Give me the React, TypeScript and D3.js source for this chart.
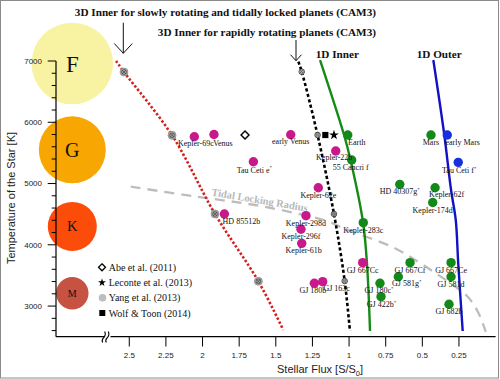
import React from 'react';
import * as d3 from 'd3';

const W = 500;
const H = 379;

// ---------- data ----------
const xTickValues = [2.5, 2.25, 2, 1.75, 1.5, 1.25, 1, 0.75, 0.5, 0.25];
const xTickLabels = ['2.5', '2.25', '2', '1.75', '1.5', '1.25', '1', '0.75', '0.5', '0.25'];
const yMajorTicks = [3000, 4000, 5000, 6000, 7000];
const yMinorTicks = [2600, 2800, 3200, 3400, 3600, 3800, 4200, 4400, 4600, 4800, 5200, 5400, 5600, 5800, 6200, 6400, 6600, 6800];

const spectralClasses = ['F', 'G', 'K', 'M'];
const spectralTemps = [6960, 5550, 4300, 3210];

const magentaPlanets: [string, number, number][] = [
  ['Kepler-69c', 2.056, 5764],
  ['Venus', 1.922, 5800],
  ['Tau Ceti e*', 1.653, 5356],
  ['early Venus', 1.398, 5797],
  ['Kepler-22b', 1.091, 5531],
  ['Kepler-62e', 1.21, 4932],
  ['Kepler-298d', 1.294, 4475],
  ['Kepler-296f', 1.328, 4253],
  ['Kepler-61b', 1.323, 4024],
  ['HD 85512b', 1.851, 4503],
  ['GJ 667Cc', 0.907, 3708],
  ['GJ 180b', 1.237, 3372],
  ['GJ 163c', 1.18, 3398],
];
const greenPlanets: [string, number, number][] = [
  ['Earth', 1.009, 5792],
  ['55 Cancri f', 0.982, 5384],
  ['Mars', 0.441, 5792],
  ['HD 40307g*', 0.654, 4987],
  ['Kepler-62f', 0.413, 4932],
  ['Kepler-174d', 0.429, 4690],
  ['Kepler-283c', 0.903, 4361],
  ['GJ 667Cf', 0.584, 3708],
  ['GJ 667Ce', 0.304, 3708],
  ['GJ 581d', 0.304, 3479],
  ['GJ 581g*', 0.664, 3479],
  ['GJ 180c*', 0.789, 3372],
  ['GJ 422b*', 0.782, 3153],
  ['GJ 682b', 0.318, 3029],
];
const bluePlanets: [string, number, number][] = [
  ['early Mars', 0.33, 5792],
  ['Tau Ceti f*', 0.255, 5346],
];

const abePoints: [number, number][] = [[1.71, 5792]];
const lecontePoints: [number, number][] = [[1.103, 5792]];
const wolfPoints: [number, number][] = [[1.162, 5792]];
const yangSlowPoints: [number, number][] = [[2.536, 6820], [2.208, 5787], [1.915, 4503], [1.619, 3404]];
const yangRapidPoints: [number, number][] = [[1.323, 6825], [1.215, 5792], [1.103, 4503], [1.03, 3409]];

const slowLine: [number, number][] = [[2.59, 7000], [2.536, 6820], [2.208, 5787], [1.915, 4503], [1.619, 3404], [1.449, 2609]];
const rapidLine: [number, number][] = [[1.346, 6990], [1.323, 6825], [1.215, 5792], [1.103, 4503], [1.03, 3409], [0.994, 2593]];
const inner1DLine: [number, number][] = [[1.198, 7016], [1.034, 5792], [0.99, 5384], [0.905, 4372], [0.878, 3703], [0.857, 2593]];
const outer1DLine: [number, number][] = [[0.425, 7016], [0.35, 5792], [0.304, 4894], [0.272, 4405], [0.255, 3698], [0.2245, 2593]];
const tidalLine: [number, number][] = [[2.49, 4948], [2.038, 4785], [1.608, 4633], [1.151, 4388], [1.028, 4258], [0.7, 3959], [0.495, 3670], [0.311, 3376], [0.195, 3164], [0.12, 2903], [0.067, 2577]];

const legendLabels = ['Abe et al. (2011)', 'Leconte et al. (2013)', 'Yang et al. (2013)', 'Wolf & Toon (2014)'];

// ---------- layout / style ----------
const labelShift: Record<string, [number, number]> = {
  'Kepler-69c': [1.5, 9.5],
  Venus: [9, 11.3],
  'Tau Ceti e*': [1, 11],
  'early Venus': [0, 9.6],
  Earth: [9, 10],
  'Kepler-22b': [-1.5, 8.5],
  '55 Cancri f': [-1, 10],
  'early Mars': [15.5, 10],
  'Tau Ceti f*': [1, 11],
  'Kepler-62f': [11.5, 9.3],
  'HD 85512b': [17, 10],
  'GJ 581g*': [8.5, 9.3],
  'GJ 180c*': [-1, 10],
  'GJ 180b': [-1.5, 9.4],
  'GJ 163c': [14, 9.3],
  'Kepler-61b': [2, 10],
  'GJ 422b*': [0.5, 10.6],
};
const classRadius: Record<string, number> = { F: 40.8, G: 33.5, K: 24.5, M: 16.2 };
const classColor: Record<string, string> = { F: '#f8f3a2', G: '#f8a602', K: '#fc4c0a', M: '#c65241' };
const classFont: Record<string, number> = { F: 23, G: 20, K: 14.5, M: 10 };

const SERIF = '"Liberation Serif", "Times New Roman", serif';
const SANS = '"Liberation Sans", Arial, sans-serif';
const MAGENTA = '#c8198a';
const GREEN = '#13891a';
const BLUE = '#1530dc';

const x = d3.scaleLinear().domain([3, 0]).range([56, 495.6]);
const y = d3.scaleLinear().domain([2500, 7000]).range([336.7, 61]);

const lineGen = d3
  .line<[number, number]>()
  .x((d) => x(d[0]))
  .y((d) => y(d[1]))
  .curve(d3.curveCatmullRom.alpha(0.5));

function Label({ name, px, py }: { name: string; px: number; py: number }) {
  const [dx, dy] = labelShift[name] || [0, 10];
  const star = name.endsWith('*');
  const base = star ? name.slice(0, -1) : name;
  return (
    <text x={px + dx} y={py + dy} textAnchor="middle" fontFamily={SERIF} fontSize={8} fill="#111">
      {base}
      {star && (
        <tspan fontSize={5} dy={-3.5}>
          *
        </tspan>
      )}
    </text>
  );
}

function YangMarker({ cx, cy, r, fill, stroke }: { cx: number; cy: number; r: number; fill: string; stroke: string }) {
  const k = r * 0.45;
  return (
    <g>
      <circle cx={cx} cy={cy} r={r} fill={fill} stroke={stroke} strokeWidth={0.7} />
      <circle cx={cx} cy={cy} r={r * 0.6} fill="none" stroke="#333" strokeWidth={0.6} />
      <path d={`M${cx - k},${cy - k}L${cx + k},${cy + k}M${cx - k},${cy + k}L${cx + k},${cy - k}`} stroke="#333" strokeWidth={0.6} />
    </g>
  );
}

const diamondPath = (cx: number, cy: number, h: number) => `M${cx},${cy - h}L${cx + h},${cy}L${cx},${cy + h}L${cx - h},${cy}Z`;

export default function App() {
  const starBig = d3.symbol(d3.symbolStar, 30)() as string;
  const starSmall = d3.symbol(d3.symbolStar, 20)() as string;
  const sqBig = d3.symbol(d3.symbolSquare, 38)() as string;
  const sqSmall = d3.symbol(d3.symbolSquare, 36)() as string;

  const allPlanets = [
    ...magentaPlanets.map((p) => ({ p, c: MAGENTA })),
    ...greenPlanets.map((p) => ({ p, c: GREEN })),
    ...bluePlanets.map((p) => ({ p, c: BLUE })),
  ];

  const legendY = [267.3, 282.6, 297.8, 313];
  const bx = 107.5;
  const by = 337;

  return (
    <svg width={W} height={H} style={{ position: 'absolute', left: 0, top: 0, background: '#fff' }}>
      <rect x={0.5} y={0.5} width={W - 2} height={H - 1.5} fill="#fff" stroke="#8a8a8a" strokeWidth={1} />

      {/* spectral class circles */}
      {spectralClasses.map((c, i) => (
        <g key={c}>
          <circle cx={72.3} cy={y(spectralTemps[i])} r={classRadius[c]} fill={classColor[c]} />
          <text x={72.3} y={y(spectralTemps[i])} dy="0.35em" textAnchor="middle" fontFamily={SERIF} fontSize={classFont[c]} fill="#111">
            {c}
          </text>
        </g>
      ))}

      {/* axes */}
      <line x1={56} x2={56} y1={y(7000)} y2={336.7} stroke="#000" strokeWidth={1.2} />
      <line x1={56} x2={495.6} y1={336.7} y2={336.7} stroke="#000" strokeWidth={1.2} />
      {yMajorTicks.map((t) => (
        <g key={t}>
          <line x1={47.7} x2={56} y1={y(t)} y2={y(t)} stroke="#000" strokeWidth={1} />
          <text x={42} y={y(t)} dy="0.35em" textAnchor="end" fontFamily={SANS} fontSize={8} fill="#222">
            {t}
          </text>
        </g>
      ))}
      {yMinorTicks.map((t) => (
        <line key={t} x1={51.7} x2={56} y1={y(t)} y2={y(t)} stroke="#000" strokeWidth={1} />
      ))}
      {xTickValues.map((v, i) => (
        <g key={v}>
          <line x1={x(v)} x2={x(v)} y1={336.7} y2={346.5} stroke="#000" strokeWidth={1} />
          <text x={x(v)} y={357.8} textAnchor="middle" fontFamily={SANS} fontSize={8} fill="#222">
            {xTickLabels[i]}
          </text>
        </g>
      ))}
      {/* axis break */}
      <rect x={bx - 3} y={by - 2} width={6} height={4} fill="#fff" />
      {[-1.8, 1.8].map((o) => (
        <path
          key={o}
          d={`M${bx - 3 + o},${by + 5.5} C${bx - 6 + o},${by + 1} ${bx + 2 + o},${by + 1} ${bx - 1 + o},${by - 5.5}`}
          fill="none"
          stroke="#000"
          strokeWidth={1.1}
        />
      ))}

      <text x={277} y={373.3} fontFamily={SANS} fontSize={11} fill="#222">
        Stellar Flux [S/S
        <tspan fontSize={7.5} dy={2.5}>0</tspan>
        <tspan dy={-2.5}>]</tspan>
      </text>
      <text transform="translate(14.5,198) rotate(-90)" textAnchor="middle" fontFamily={SANS} fontSize={11} fill="#222">
        Temperature of the Star [K]
      </text>

      {/* tidal locking */}
      <path d={lineGen(tidalLine) as string} fill="none" stroke="#bdbdbd" strokeWidth={2.3} strokeDasharray="10,7" />
      <text transform="translate(211,195.5) rotate(9.5)" fontFamily={SERIF} fontWeight="bold" fontSize={10.5} fill="#b8b8b8">
        Tidal Locking Radius
      </text>

      {/* limit lines */}
      <path d={lineGen(slowLine) as string} fill="none" stroke="#d41f1f" strokeWidth={2.6} strokeDasharray="2.4,2" />
      <path d={lineGen(rapidLine) as string} fill="none" stroke="#000" strokeWidth={2.6} strokeDasharray="3.2,2.4" />
      <path d={lineGen(inner1DLine) as string} fill="none" stroke="#168a16" strokeWidth={2.4} />
      <path d={lineGen(outer1DLine) as string} fill="none" stroke="#1212c4" strokeWidth={2.4} />

      {/* titles & arrows */}
      <text x={376} y={16} textAnchor="end" fontFamily={SERIF} fontWeight="bold" fontSize={11.2} fill="#111">
        3D Inner for slowly rotating and tidally locked planets (CAM3)
      </text>
      <text x={376} y={36} textAnchor="end" fontFamily={SERIF} fontWeight="bold" fontSize={11.2} fill="#111">
        3D Inner for rapidly rotating planets (CAM3)
      </text>
      <text x={315.7} y={57.5} fontFamily={SERIF} fontWeight="bold" fontSize={11.2} fill="#111">
        1D Inner
      </text>
      <text x={416.7} y={57.5} fontFamily={SERIF} fontWeight="bold" fontSize={11.2} fill="#111">
        1D Outer
      </text>
      <path d="M123.3,22.7L123.3,53.3M114.3,43.5L123.3,53.3L132.3,43.5" fill="none" stroke="#111" strokeWidth={1} />
      <path d="M296,40L296,60.7M290.5,54.7L296,60.7L301.5,54.7" fill="none" stroke="#111" strokeWidth={1} />

      {/* Yang markers */}
      {yangSlowPoints.map((d, i) => (
        <YangMarker key={'ys' + i} cx={x(d[0])} cy={y(d[1])} r={4} fill="#a9a9a9" stroke="#8a8a8a" />
      ))}
      {yangRapidPoints.map((d, i) => (
        <YangMarker key={'yr' + i} cx={x(d[0])} cy={y(d[1])} r={2.8} fill="#e6e6e6" stroke="#111" />
      ))}

      {/* other studies */}
      {abePoints.map((d, i) => (
        <path key={'a' + i} d={diamondPath(x(d[0]), y(d[1]), 4)} fill="#fff" stroke="#000" strokeWidth={1.4} />
      ))}
      {wolfPoints.map((d, i) => (
        <path key={'w' + i} d={sqBig} transform={`translate(${x(d[0])},${y(d[1])})`} fill="#000" />
      ))}
      {lecontePoints.map((d, i) => (
        <path key={'l' + i} d={starBig} transform={`translate(${x(d[0])},${y(d[1])})`} fill="#000" />
      ))}

      {/* planets */}
      {allPlanets.map(({ p, c }) => (
        <circle key={p[0]} cx={x(p[1])} cy={y(p[2])} r={4.7} fill={c} />
      ))}
      {allPlanets.map(({ p }) => (
        <Label key={'lb' + p[0]} name={p[0]} px={x(p[1])} py={y(p[2])} />
      ))}

      {/* legend */}
      <path d={diamondPath(102, legendY[0], 3.5)} fill="#fff" stroke="#000" strokeWidth={1.3} />
      <path d={starSmall} transform={`translate(102,${legendY[1]})`} fill="#000" />
      <circle cx={102.5} cy={legendY[2]} r={3.8} fill="#bdbdbd" />
      <path d={sqSmall} transform={`translate(102.3,${legendY[3]})`} fill="#000" />
      {legendLabels.map((l, i) => (
        <text key={l} x={108.7} y={legendY[i] + 3.6} fontFamily={SERIF} fontSize={10} fill="#111">
          {l}
        </text>
      ))}
    </svg>
  );
}
